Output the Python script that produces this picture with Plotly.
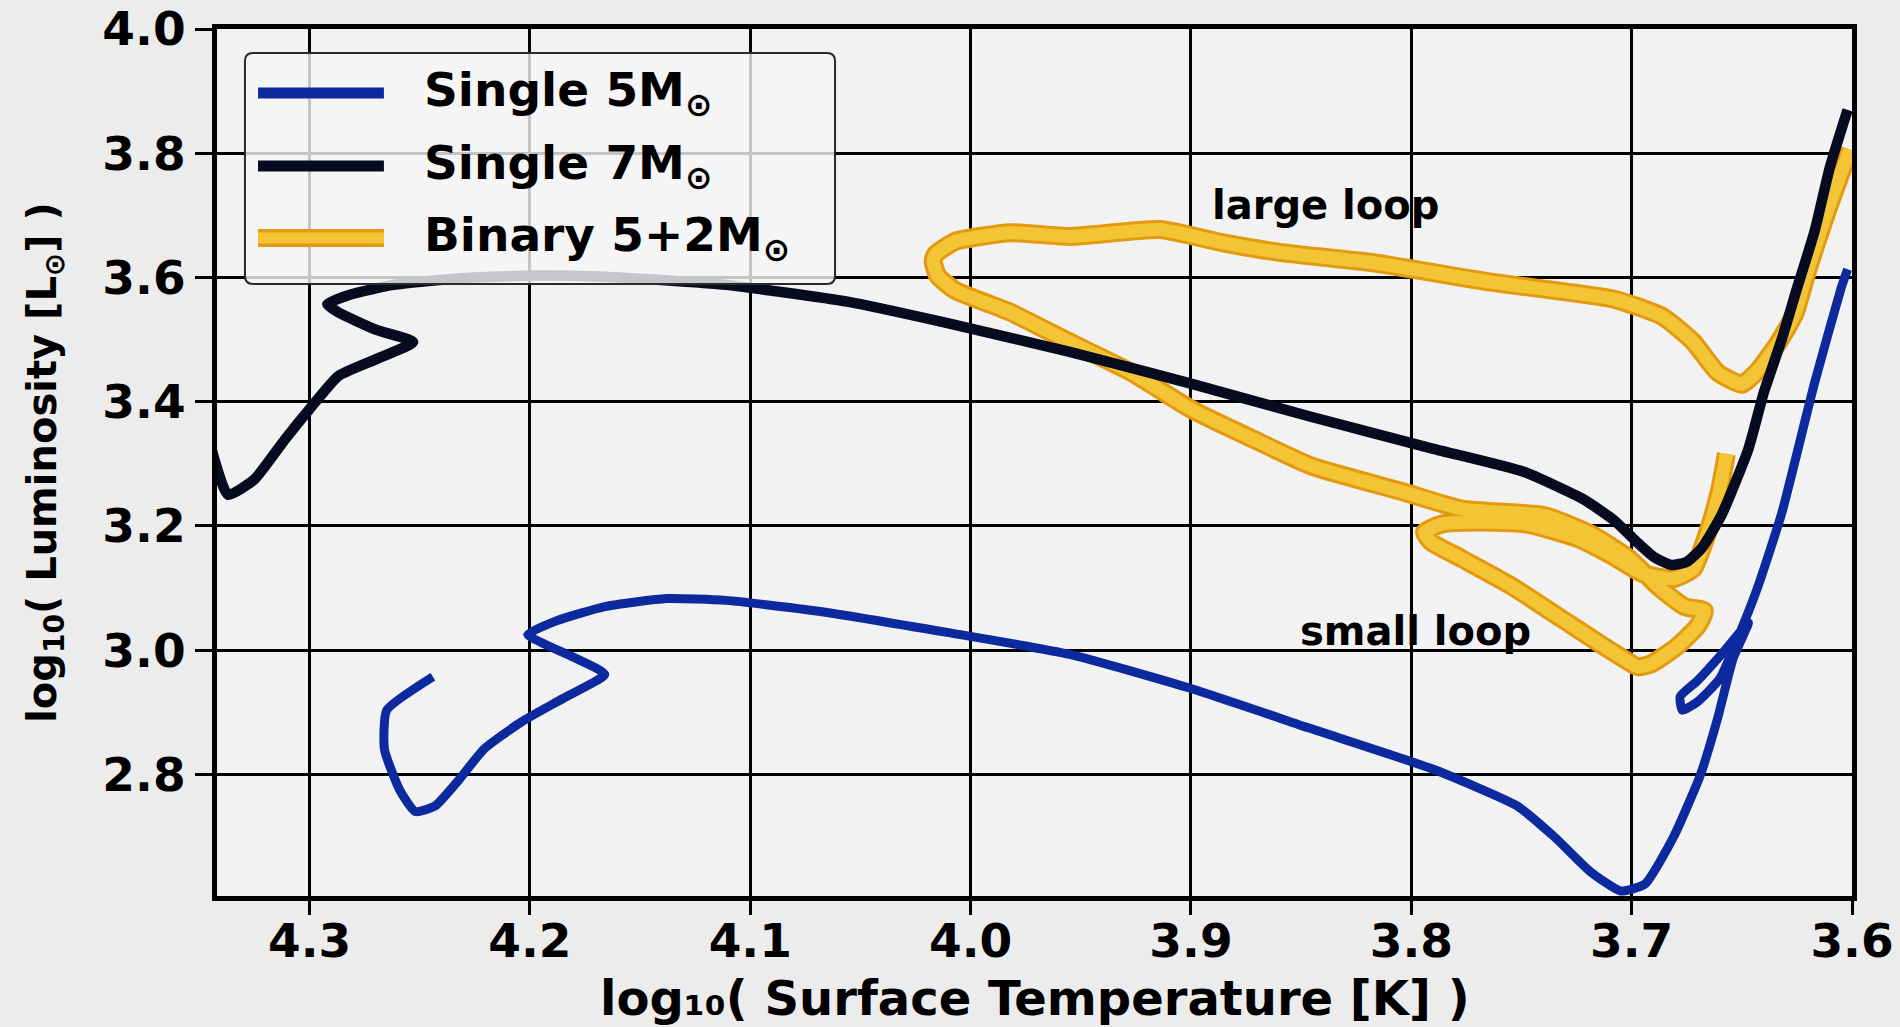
import plotly.graph_objects as go

# ---------------- data ----------------
# Single 5 Msun track
s5_logT = [4.244, 4.265, 4.266, 4.259, 4.252, 4.243, 4.232, 4.221, 4.204, 4.185,
           4.166, 4.180, 4.193, 4.201, 4.188, 4.166, 4.138, 4.111, 4.070, 4.010,
           3.955, 3.900, 3.846, 3.790, 3.752, 3.735, 3.719, 3.705, 3.694, 3.681,
           3.669, 3.661, 3.654, 3.647, 3.659, 3.670, 3.678, 3.677, 3.670, 3.660,
           3.652, 3.643, 3.632, 3.617, 3.605, 3.602]
s5_logL = [2.957, 2.903, 2.840, 2.774, 2.740, 2.749, 2.792, 2.840, 2.884, 2.922,
           2.961, 2.988, 3.009, 3.025, 3.047, 3.070, 3.083, 3.080, 3.063, 3.028,
           2.993, 2.938, 2.874, 2.808, 2.749, 2.699, 2.644, 2.612, 2.623, 2.699,
           2.797, 2.890, 2.986, 3.044, 2.994, 2.951, 2.925, 2.903, 2.917, 2.954,
           3.018, 3.099, 3.219, 3.430, 3.582, 3.613]

# Single 7 Msun track
s7_logT = [4.345, 4.337, 4.325, 4.311, 4.300, 4.287, 4.270, 4.253, 4.270, 4.287,
           4.292, 4.281, 4.262, 4.234, 4.199, 4.166, 4.111, 4.056, 4.010, 3.955,
           3.900, 3.846, 3.790, 3.749, 3.722, 3.708, 3.698, 3.690, 3.682, 3.675,
           3.668, 3.659, 3.647, 3.640, 3.632, 3.625, 3.617, 3.610, 3.602]
s7_logL = [3.330, 3.250, 3.275, 3.340, 3.388, 3.441, 3.468, 3.496, 3.516, 3.544,
           3.557, 3.573, 3.588, 3.598, 3.603, 3.601, 3.588, 3.561, 3.526, 3.480,
           3.429, 3.376, 3.324, 3.287, 3.243, 3.209, 3.175, 3.150, 3.137, 3.142,
           3.165, 3.219, 3.324, 3.415, 3.499, 3.582, 3.674, 3.778, 3.870]

# Binary 5+2 Msun track
b_logT = [3.601, 3.611, 3.620, 3.626, 3.634, 3.643, 3.650, 3.661, 3.672, 3.686,
          3.708, 3.763, 3.818, 3.859, 3.886, 3.914, 3.955, 3.982, 4.007, 4.016,
          4.017, 4.015, 4.007, 3.982, 3.955, 3.927, 3.900, 3.872, 3.845, 3.804,
          3.777, 3.739, 3.717, 3.701, 3.687, 3.676, 3.667, 3.670, 3.679, 3.691,
          3.697, 3.709, 3.732, 3.755, 3.777, 3.791, 3.794, 3.786, 3.770, 3.748,
          3.724, 3.709, 3.695, 3.681, 3.672, 3.665, 3.660, 3.657]
b_logL = [3.806, 3.709, 3.613, 3.541, 3.492, 3.449, 3.428, 3.447, 3.496, 3.537,
          3.565, 3.592, 3.624, 3.640, 3.656, 3.677, 3.666, 3.672, 3.658, 3.637,
          3.626, 3.603, 3.579, 3.544, 3.496, 3.447, 3.388, 3.340, 3.296, 3.255,
          3.227, 3.216, 3.184, 3.147, 3.099, 3.070, 3.063, 3.039, 3.007, 2.978,
          2.973, 2.998, 3.051, 3.104, 3.147, 3.174, 3.190, 3.203, 3.206, 3.203,
          3.179, 3.152, 3.123, 3.115, 3.131, 3.195, 3.259, 3.316]

x_ticks = [4.3, 4.2, 4.1, 4.0, 3.9, 3.8, 3.7, 3.6]
y_ticks = [2.8, 3.0, 3.2, 3.4, 3.6, 3.8, 4.0]
series_names = ["Single 5M<sub>⊙</sub>", "Single 7M<sub>⊙</sub>", "Binary 5+2M<sub>⊙</sub>"]
x_title = "log₁₀( Surface Temperature [K] )"
y_title = "log<sub>10</sub>( Luminosity [L<sub>⊙</sub>] )"
loop_labels = ["large loop", "small loop"]
loop_label_T = [3.839, 3.798]
loop_label_L = [3.716, 3.030]

# ---------------- styles ----------------
FONT = "DejaVu Sans"
C5 = "#0c2a9e"
C7 = "#070b20"
C_OR = "#e39a10"
C_GD = "#f3c536"

fig = go.Figure()

fig.add_trace(go.Scatter(x=s5_logT, y=s5_logL, mode="lines", name=series_names[0],
                         line=dict(color=C5, width=9, shape="spline", smoothing=0.5),
                         showlegend=False))
fig.add_trace(go.Scatter(x=b_logT, y=b_logL, mode="lines", name=series_names[2],
                         line=dict(color=C_OR, width=19, shape="spline", smoothing=0.5),
                         showlegend=False, hoverinfo="skip"))
fig.add_trace(go.Scatter(x=b_logT, y=b_logL, mode="lines", name=series_names[2],
                         line=dict(color=C_GD, width=13, shape="spline", smoothing=0.5),
                         showlegend=False))
fig.add_trace(go.Scatter(x=s7_logT, y=s7_logL, mode="lines", name=series_names[1],
                         line=dict(color=C7, width=10.5, shape="spline", smoothing=0.5),
                         showlegend=False))

# annotations for loops
for t, xx, yy in zip(loop_labels, loop_label_T, loop_label_L):
    fig.add_annotation(x=xx, y=yy, text=t, showarrow=False, xanchor="center", yanchor="middle",
                       font=dict(family=FONT, size=40, color="black", weight="bold"))

# x-axis title (placed as paper annotation to sit where the reference has it)
fig.add_annotation(xref="paper", yref="paper", x=0.5, y=-0.1173, text=x_title,
                   showarrow=False, xanchor="center", yanchor="middle",
                   font=dict(family=FONT, size=48, color="black", weight="bold"))

# ---------------- hand-drawn legend box (paper coords) ----------------
x0, x1, yt, yb = 0.0171, 0.378, 0.9723, 0.7059
rx, ry = 0.005, 0.0092
path = (f"M {x0+rx},{yt} L {x1-rx},{yt} Q {x1},{yt} {x1},{yt-ry} L {x1},{yb+ry} "
        f"Q {x1},{yb} {x1-rx},{yb} L {x0+rx},{yb} Q {x0},{yb} {x0},{yb+ry} "
        f"L {x0},{yt-ry} Q {x0},{yt} {x0+rx},{yt} Z")
fig.add_shape(type="path", path=path, xref="paper", yref="paper",
              line=dict(color="#2a2a2a", width=2), fillcolor="rgba(245,245,245,0.8)", layer="above")

leg_rows = [0.9262, 0.8420, 0.7589]
lx0, lx1, tx = 0.0251, 0.1021, 0.1254
leg_styles = [[(C5, 11)], [(C7, 11)], [(C_OR, 18), (C_GD, 11)]]
for name, yy, styles in zip(series_names, leg_rows, leg_styles):
    for col, w in styles:
        fig.add_shape(type="line", xref="paper", yref="paper", x0=lx0, x1=lx1, y0=yy, y1=yy,
                      line=dict(color=col, width=w), layer="above")
    fig.add_annotation(xref="paper", yref="paper", x=tx, y=yy, text=name, showarrow=False,
                       xanchor="left", yanchor="middle",
                       font=dict(family=FONT, size=47, color="black", weight="bold"))

axis_common = dict(
    showgrid=True, gridcolor="black", gridwidth=3,
    showline=True, linecolor="black", linewidth=5, mirror=True,
    ticks="outside", tickwidth=3, tickcolor="black",
    zeroline=False, tickformat=".1f", automargin=False,
    tickfont=dict(family=FONT, size=47, color="black", weight="bold"),
)

fig.update_xaxes(range=[4.342, 3.6], tickvals=x_ticks, ticklen=14, ticklabelstandoff=-14,
                 **axis_common)
fig.update_yaxes(range=[2.604, 4.0], tickvals=y_ticks, ticklen=17, **axis_common,
                 title=dict(text=y_title, standoff=35,
                            font=dict(family=FONT, size=40, color="black", weight="bold")))

fig.update_layout(
    width=1900, height=1027,
    margin=dict(l=217, r=48, t=29, b=131),
    paper_bgcolor="#ececec", plot_bgcolor="#f2f2f2",
    showlegend=False,
)

fig.write_html("out.html")
